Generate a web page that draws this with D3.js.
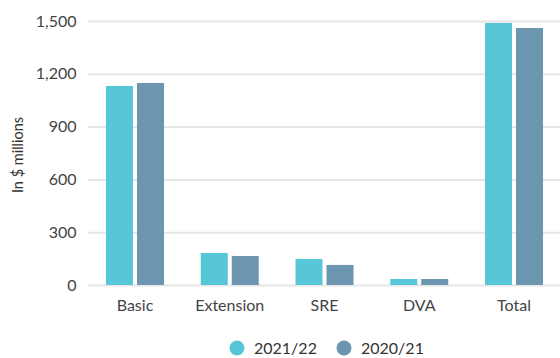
<!DOCTYPE html>
<html><head><meta charset="utf-8">
<script src="https://cdn.jsdelivr.net/npm/d3@7/dist/d3.min.js"></script>
<style>html,body{margin:0;padding:0;background:#fff}svg{display:block}</style>
</head><body><svg id="c" width="560" height="358"></svg>
<script>
const categories = ["Basic", "Extension", "SRE", "DVA", "Total"];
const seriesNames = ["2021/22", "2020/21"];
const values2122 = [1131, 182, 148, 34, 1489];
const values2021 = [1148, 165, 114, 34, 1460];
const yTicks = [0, 300, 600, 900, 1200, 1500];
const colors = ["#57c7d8", "#6c95af"];

(function () {
const svg = d3.select("#c");
const font = "Lato, 'Open Sans', sans-serif";
const mLeft = 87.6, mRight = 561.4, mTop = 21, mBottom = 285;
const barW = 27, gap = 4, groupW = barW * 2 + gap;
const x = d3.scaleBand().domain(categories).range([mLeft, mRight]).paddingInner(0).paddingOuter(0);
const y = d3.scaleLinear().domain([0, 1500]).range([mBottom, mTop]);
const x1 = d3.scaleOrdinal().domain(seriesNames).range([0, barW + gap]);

const yAxis = d3.axisLeft(y).tickValues(yTicks).tickFormat(d3.format(",")).tickSize(-(560 - mLeft)).tickPadding(11);
const ga = svg.append("g").attr("transform", `translate(${mLeft},0)`).call(yAxis);
ga.select(".domain").remove();
ga.selectAll(".tick line").attr("stroke", "#e6e6e6").attr("stroke-width", 2);
ga.selectAll(".tick text").attr("fill", "#444").style("font-family", font).style("font-size", "16px");

const data = categories.map((c, i) => ({c, v: [values2122[i], values2021[i]]}));
const groups = svg.append("g").selectAll("g").data(data).join("g")
  .attr("transform", d => `translate(${x(d.c) + (x.bandwidth() - groupW) / 2},0)`);
groups.selectAll("rect").data(d => d.v.map((v, j) => ({v, s: seriesNames[j], j})))
  .join("rect")
  .attr("x", d => x1(d.s)).attr("width", barW)
  .attr("y", d => y(d.v)).attr("height", d => y(0) - y(d.v))
  .attr("fill", d => colors[d.j]);

const xAxis = d3.axisBottom(x).tickSize(0).tickPadding(15);
const gx = svg.append("g").attr("transform", `translate(0,${mBottom})`).call(xAxis);
gx.select(".domain").remove();
gx.selectAll(".tick text").attr("fill", "#444").style("font-family", font).style("font-size", "16px");

svg.append("text").attr("transform", "translate(23,155) rotate(-90)")
  .attr("text-anchor", "middle").attr("fill", "#333").style("font-family", font).style("font-size", "14.5px")
  .text("In $ millions");

const legX = [237, 344];
const lg = svg.append("g").selectAll("g").data(seriesNames).join("g")
  .attr("transform", (d, i) => `translate(${legX[i]},348)`);
lg.append("circle").attr("r", 7.5).attr("fill", (d, i) => colors[i]);
lg.append("text").attr("x", 17).attr("dy", "0.35em").attr("fill", "#333")
  .style("font-family", font).style("font-size", "16px").text(d => d);
})();
</script></body></html>
